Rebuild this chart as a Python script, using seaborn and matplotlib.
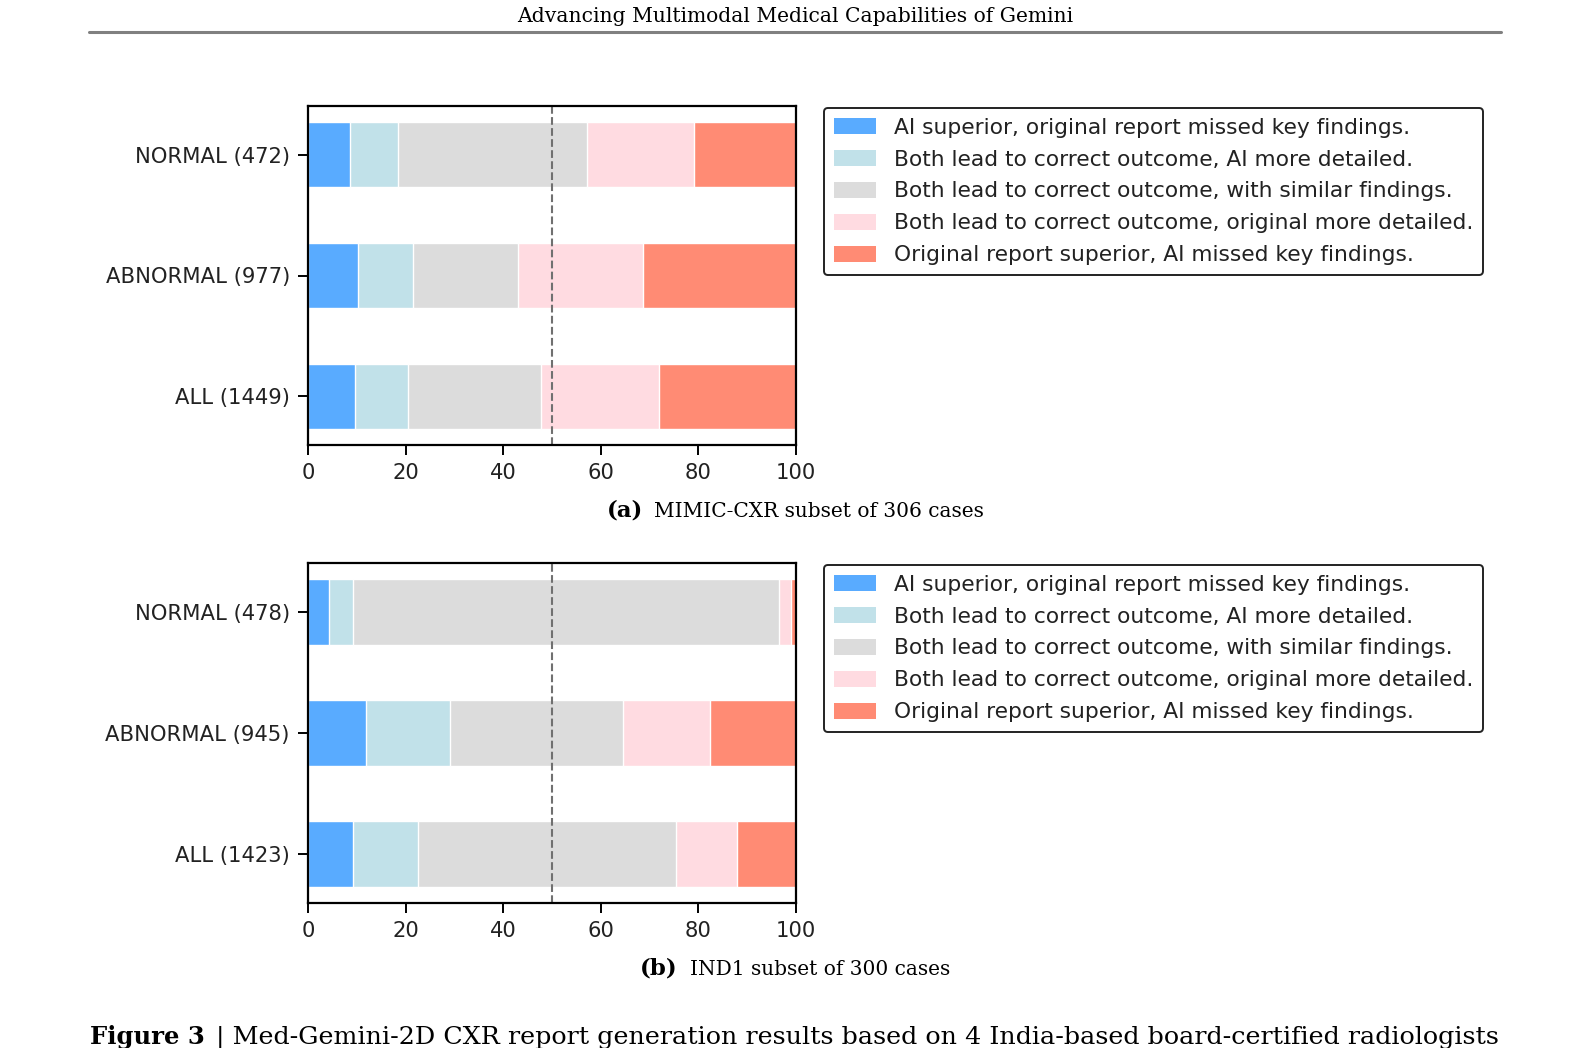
import numpy as np
import pandas as pd
import matplotlib
matplotlib.use("Agg")
import matplotlib.pyplot as plt
import matplotlib.patches as mpatches
import seaborn as sns

sns.set_style("ticks")
plt.rcParams["font.family"] = ["DejaVu Sans"]

# categories and segment labels
groups_a = ["NORMAL (472)", "ABNORMAL (977)", "ALL (1449)"]
groups_b = ["NORMAL (478)", "ABNORMAL (945)", "ALL (1423)"]
labels = [
  "AI superior, original report missed key findings.",
  "Both lead to correct outcome, AI more detailed.",
  "Both lead to correct outcome, with similar findings.",
  "Both lead to correct outcome, original more detailed.",
  "Original report superior, AI missed key findings.",
]
colors = ["#59abff", "#c1e1e9", "#dcdcdc", "#ffdbe1", "#ff8b74"]

# percentages per segment (NORMAL, ABNORMAL, ALL)
mimic_ai_sup = [8.6, 10.3, 9.7]
mimic_ai_det = [9.8, 11.3, 10.8]
mimic_similar = [38.8, 21.5, 27.2]
mimic_orig_det = [21.8, 25.5, 24.3]
mimic_orig_sup = [21.0, 31.4, 28.0]

ind1_ai_sup = [4.3, 11.8, 9.2]
ind1_ai_det = [4.9, 17.4, 13.4]
ind1_similar = [87.4, 35.4, 52.8]
ind1_orig_det = [2.4, 17.7, 12.6]
ind1_orig_sup = [1.0, 17.7, 12.0]

panels = [
  (groups_a, [mimic_ai_sup, mimic_ai_det, mimic_similar, mimic_orig_det, mimic_orig_sup]),
  (groups_b, [ind1_ai_sup, ind1_ai_det, ind1_similar, ind1_orig_det, ind1_orig_sup]),
]

W, H = 1592, 1048
fig = plt.figure(figsize=(W / 100, H / 100), dpi=100)

ax_rects = [
  [308 / W, 1 - 445 / H, 488 / W, 339 / H],
  [308 / W, 1 - 903 / H, 488 / W, 340 / H],
]

txt_col = "#222222"

for (groups, segs), rect in zip(panels, ax_rects):
  ax = fig.add_axes(rect)
  df = pd.DataFrame(np.array(segs).T, columns=labels)
  df.insert(0, "group", groups)
  cum = df[labels].cumsum(axis=1)
  # draw cumulative totals from the longest down, so each segment sits on top
  for lab, col in reversed(list(zip(labels, colors))):
    sns.barplot(x=cum[lab], y=df["group"], color=col, orient="h", width=0.54,
                edgecolor="white", linewidth=1.0, saturation=1, ax=ax, zorder=2)
  ax.axvline(50, color="#707070", linestyle="--", linewidth=1.5, zorder=3)
  ax.set_xlim(0, 100)
  ax.set_ylim(2.406, -0.406)
  ax.set_xticks([0, 20, 40, 60, 80, 100])
  ax.set_xlabel("")
  ax.set_ylabel("")
  for s in ax.spines.values():
    s.set_linewidth(1.6)
    s.set_color("black")
    s.set_zorder(4)
  ax.tick_params(axis="both", labelsize=15.2, length=7, width=1.4, pad=6,
                 colors="black", labelcolor=txt_col)
  handles = [mpatches.Patch(facecolor=c, edgecolor="none", label=l) for l, c in zip(labels, colors)]
  leg = ax.legend(handles=handles, loc="upper left", bbox_to_anchor=(1.057, 0.995),
                  borderaxespad=0, fontsize=15.7, frameon=True, fancybox=True,
                  labelspacing=0.55, handlelength=1.93, handleheight=0.8,
                  handletextpad=0.85, borderpad=0.45, framealpha=1)
  leg.get_frame().set_edgecolor("#222222")
  leg.get_frame().set_linewidth(1.4)
  for t in leg.get_texts():
    t.set_color(txt_col)

serif = ["DejaVu Serif"]

# page header
fig.text(795 / W, 1 - 22.5 / H, "Advancing Multimodal Medical Capabilities of Gemini",
         ha="center", va="baseline", fontsize=14.6, family=serif, color="black")
fig.add_artist(plt.Line2D([89 / W, 1501 / W], [1 - 31.5 / H, 1 - 31.5 / H],
                          color="#808080", linewidth=2.2, transform=fig.transFigure))

# sub captions
fig.text(607 / W, 1 - 517 / H, "(a)", ha="left", va="baseline", fontsize=16.5,
         family=serif, weight="bold", color="black")
fig.text(654 / W, 1 - 517 / H, "MIMIC-CXR subset of 306 cases", ha="left", va="baseline",
         fontsize=14.5, family=serif, color="black")
fig.text(640 / W, 1 - 975 / H, "(b)", ha="left", va="baseline", fontsize=16.5,
         family=serif, weight="bold", color="black")
fig.text(690 / W, 1 - 975 / H, "IND1 subset of 300 cases", ha="left", va="baseline",
         fontsize=14.5, family=serif, color="black")

# figure caption, cut by the page edge
fig.text(90 / W, 1 - 1044 / H, "Figure 3", ha="left", va="baseline", fontsize=17.5,
         family=serif, weight="bold", color="black")
fig.text(216 / W, 1 - 1044 / H, "| Med-Gemini-2D CXR report generation results based on 4 India-based board-certified radiologists",
         ha="left", va="baseline", fontsize=18.3, family=serif, color="black")

fig.savefig("out.png", dpi=100)
